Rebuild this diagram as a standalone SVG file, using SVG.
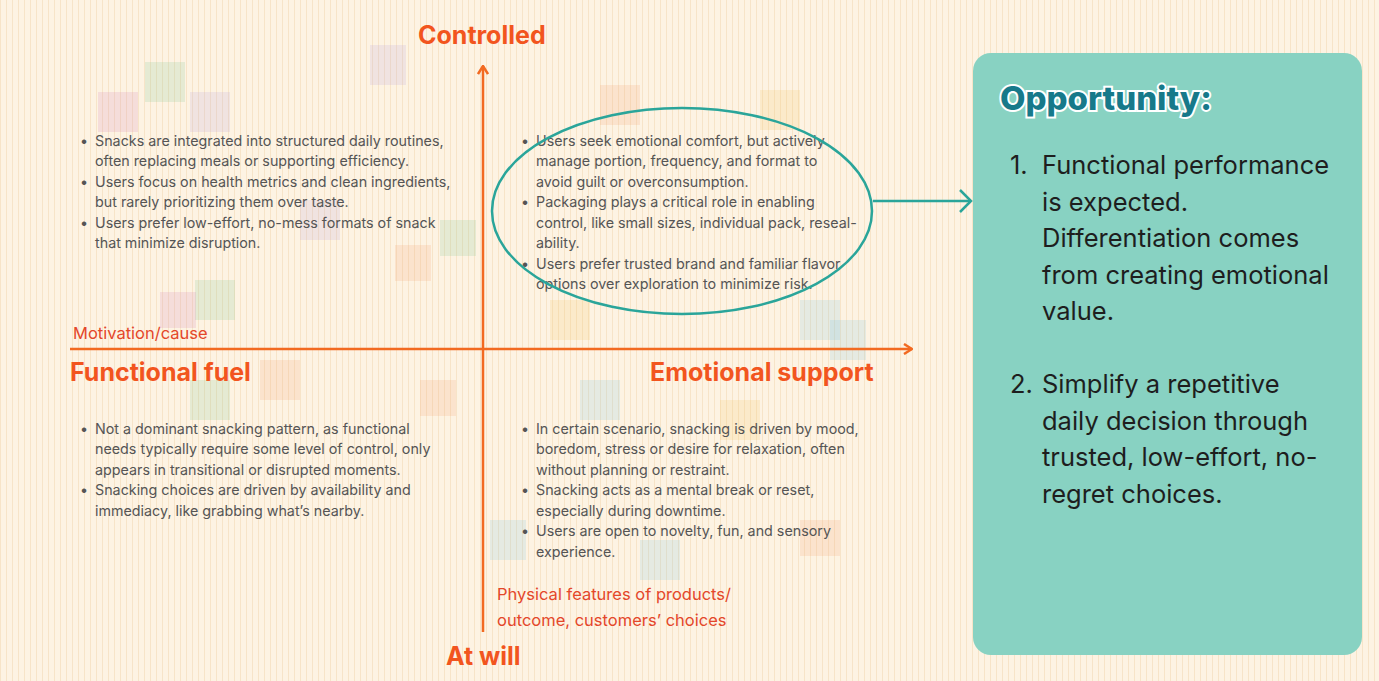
<svg xmlns="http://www.w3.org/2000/svg" width="1379" height="681" viewBox="0 0 1379 681">
<defs>
<pattern id="lines" width="6" height="681" patternUnits="userSpaceOnUse"><rect width="6" height="681" fill="#fdf3e3"/><rect x="0" width="1" height="681" fill="#f7e4c8"/></pattern>
<marker id="oa" markerWidth="10" markerHeight="12" refX="9" refY="6" orient="auto" markerUnits="userSpaceOnUse"><path d="M1,1 L9,6 L1,11" fill="none" stroke="#f26a21" stroke-width="2.5"/></marker>
<marker id="ta" markerWidth="14" markerHeight="24" refX="12" refY="12" orient="auto" markerUnits="userSpaceOnUse"><path d="M1,1 L12,12 L1,23" fill="none" stroke="#2aa59a" stroke-width="2.5"/></marker>
</defs>
<style>
.ax{font-family:Inter,"Liberation Sans",sans-serif;font-weight:700;font-size:25px;fill:#f2551e}
.sub{font-family:Inter,"Liberation Sans",sans-serif;font-size:16.5px;fill:#e4472a}
.b{font-family:Inter,"Liberation Sans",sans-serif;font-size:14.3px;fill:#555}
.op{font-family:Inter,"Liberation Sans",sans-serif;font-size:25.5px;fill:#1e1e1e}
.n{fill-opacity:0.18}
</style>
<rect width="1379" height="681" fill="url(#lines)"/>
<g id="bg-notes">
<rect class="n" x="98" y="92" width="40" height="40" fill="#d07ab0"/><rect class="n" x="145" y="62" width="40" height="40" fill="#7cc08a"/><rect class="n" x="190" y="92" width="40" height="40" fill="#b79ad6"/><rect class="n" x="370" y="45" width="36" height="40" fill="#b79ad6"/><rect class="n" x="300" y="200" width="40" height="40" fill="#b79ad6"/><rect class="n" x="395" y="245" width="36" height="36" fill="#f29a6c"/><rect class="n" x="195" y="280" width="40" height="40" fill="#7cc08a"/><rect class="n" x="160" y="292" width="36" height="36" fill="#d07ab0"/><rect class="n" x="440" y="220" width="36" height="36" fill="#7cc08a"/><rect class="n" x="600" y="85" width="40" height="40" fill="#f29a6c"/><rect class="n" x="760" y="90" width="40" height="40" fill="#f5c15a"/><rect class="n" x="550" y="300" width="40" height="40" fill="#f5c15a"/><rect class="n" x="800" y="300" width="40" height="40" fill="#7cc0e0"/><rect class="n" x="830" y="320" width="36" height="40" fill="#7cc0e0"/><rect class="n" x="640" y="540" width="40" height="40" fill="#7cc0e0"/><rect class="n" x="490" y="520" width="36" height="40" fill="#7cc0e0"/><rect class="n" x="800" y="520" width="40" height="36" fill="#f29a6c"/><rect class="n" x="420" y="380" width="36" height="36" fill="#f29a6c"/><rect class="n" x="190" y="380" width="40" height="40" fill="#7cc08a"/><rect class="n" x="260" y="360" width="40" height="40" fill="#f29a6c"/><rect class="n" x="580" y="380" width="40" height="40" fill="#7cc0e0"/><rect class="n" x="720" y="400" width="40" height="40" fill="#f5c15a"/>
</g>
<g id="connectors">
<line x1="483" y1="632" x2="483" y2="66" stroke="#f26a21" stroke-width="2.5" marker-end="url(#oa)"/>
<line x1="70" y1="349" x2="912" y2="349" stroke="#f26a21" stroke-width="2.5" marker-end="url(#oa)"/>
<line x1="873" y1="201" x2="971" y2="201" stroke="#2aa59a" stroke-width="2.5" marker-end="url(#ta)"/>
</g>
<g id="axis-labels">
<text class="ax" x="418" y="44">Controlled</text>
<text class="ax" x="446" y="665">At will</text>
<text class="ax" x="70" y="381">Functional fuel</text>
<text class="ax" x="650" y="381">Emotional support</text>
<text class="sub" x="73" y="339">Motivation/cause</text>
<text class="sub" x="497" y="600">Physical features of products/</text>
<text class="sub" x="497" y="626">outcome, customers’ choices</text>
</g>
<g id="q-top-left">
<text class="b"><tspan x="80" y="146">•</tspan><tspan x="95" y="146">Snacks are integrated into structured daily routines,</tspan><tspan x="95" y="166">often replacing meals or supporting efficiency.</tspan><tspan x="80" y="187">•</tspan><tspan x="95" y="187">Users focus on health metrics and clean ingredients,</tspan><tspan x="95" y="207">but rarely prioritizing them over taste.</tspan><tspan x="80" y="228">•</tspan><tspan x="95" y="228">Users prefer low-effort, no-mess formats of snack</tspan><tspan x="95" y="248">that minimize disruption.</tspan></text>
</g>
<g id="q-top-right">
<text class="b"><tspan x="521" y="146">•</tspan><tspan x="536" y="146">Users seek emotional comfort, but actively</tspan><tspan x="536" y="166">manage portion, frequency, and format to</tspan><tspan x="536" y="187">avoid guilt or overconsumption.</tspan><tspan x="521" y="207">•</tspan><tspan x="536" y="207">Packaging plays a critical role in enabling</tspan><tspan x="536" y="228">control, like small sizes, individual pack, reseal-</tspan><tspan x="536" y="248">ability.</tspan><tspan x="521" y="269">•</tspan><tspan x="536" y="269">Users prefer trusted brand and familiar flavor</tspan><tspan x="536" y="289">options over exploration to minimize risk.</tspan></text>
<ellipse cx="682" cy="211" rx="190" ry="103" fill="none" stroke="#2aa59a" stroke-width="2.5"/>
</g>
<g id="q-bottom-left">
<text class="b"><tspan x="80" y="434">•</tspan><tspan x="95" y="434">Not a dominant snacking pattern, as functional</tspan><tspan x="95" y="454">needs typically require some level of control, only</tspan><tspan x="95" y="475">appears in transitional or disrupted moments.</tspan><tspan x="80" y="495">•</tspan><tspan x="95" y="495">Snacking choices are driven by availability and</tspan><tspan x="95" y="516">immediacy, like grabbing what’s nearby.</tspan></text>
</g>
<g id="q-bottom-right">
<text class="b"><tspan x="521" y="434">•</tspan><tspan x="536" y="434">In certain scenario, snacking is driven by mood,</tspan><tspan x="536" y="454">boredom, stress or desire for relaxation, often</tspan><tspan x="536" y="475">without planning or restraint.</tspan><tspan x="521" y="495">•</tspan><tspan x="536" y="495">Snacking acts as a mental break or reset,</tspan><tspan x="536" y="516">especially during downtime.</tspan><tspan x="521" y="536">•</tspan><tspan x="536" y="536">Users are open to novelty, fun, and sensory</tspan><tspan x="536" y="557">experience.</tspan></text>
</g>
<g id="opportunity">
<rect x="973" y="53" width="389" height="602" rx="18" fill="#88d2c2"/>
<text x="1000" y="110" font-family="Inter,'Liberation Sans',sans-serif" font-weight="800" font-size="33" fill="#17798a" stroke="#fff" stroke-width="4" paint-order="stroke">Opportunity:</text>
<text class="op"><tspan x="1010" y="174">1.</tspan><tspan x="1042" y="174">Functional performance</tspan><tspan x="1042" y="211">is expected.</tspan><tspan x="1042" y="247">Differentiation comes</tspan><tspan x="1042" y="284">from creating emotional</tspan><tspan x="1042" y="320">value.</tspan><tspan x="1010" y="393">2.</tspan><tspan x="1042" y="393">Simplify a repetitive</tspan><tspan x="1042" y="430">daily decision through</tspan><tspan x="1042" y="466">trusted, low-effort, no-</tspan><tspan x="1042" y="503">regret choices.</tspan></text>
</g>
</svg>
